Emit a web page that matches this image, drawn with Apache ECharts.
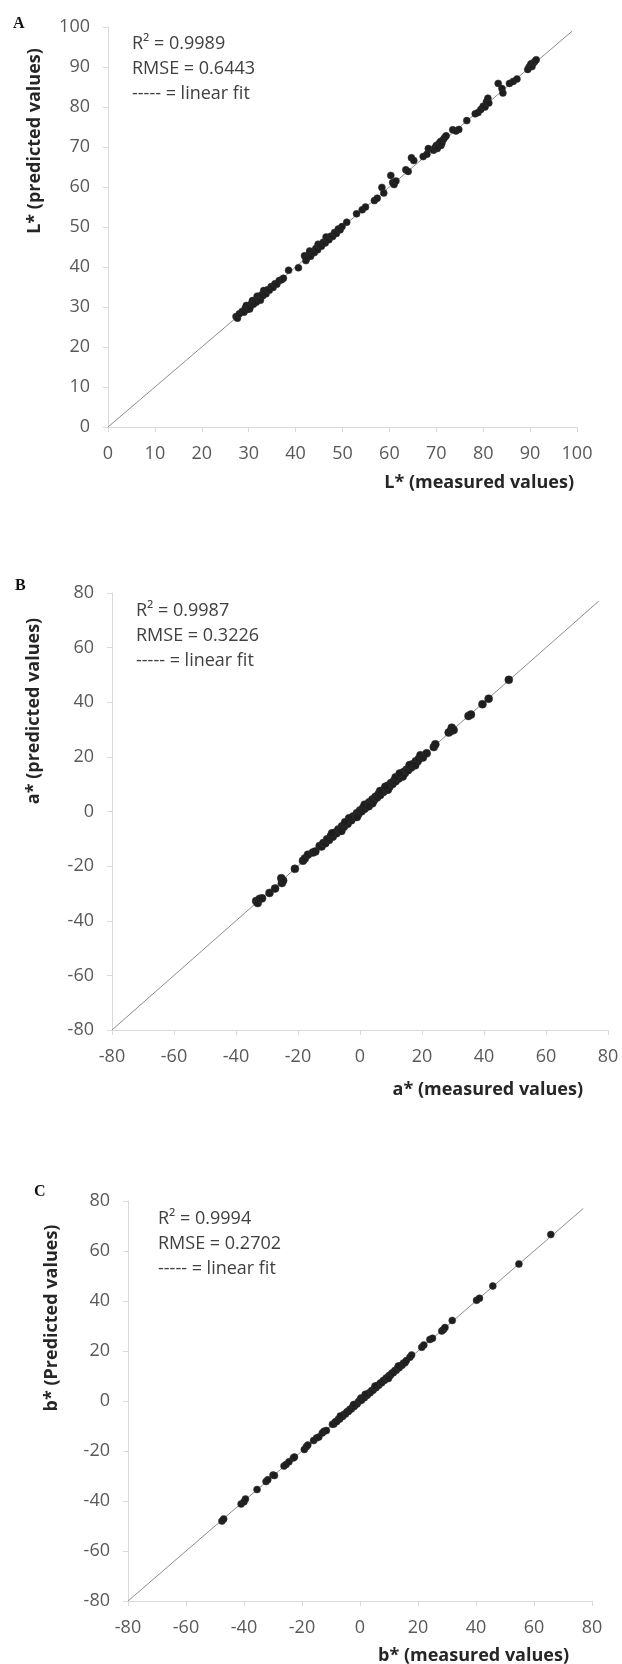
<!DOCTYPE html>
<html>
<head>
<meta charset="utf-8">
<script src="https://cdn.jsdelivr.net/npm/echarts@6/dist/echarts.min.js"></script>
<style>
  html, body { margin: 0; padding: 0; background: #fff; }
  #chart { width: 622px; height: 1664px; }
</style>
</head>
<body>
<div id="chart"></div>
<script>
// ============ data ============
// L* : [measured, predicted]
const lPoints = [
  [27.3,27.6],[27.6,27.2],[28.0,28.3],[28.6,28.9],[29.0,28.7],[29.3,29.8],[29.5,30.4],[29.7,29.4],
  [30.0,30.3],[30.2,29.5],[30.3,30.0],[30.6,30.9],[30.8,31.6],[31.0,30.7],[31.3,31.5],[31.6,31.2],
  [31.8,32.7],[32.0,32.3],[32.3,32.0],[32.5,31.7],[32.7,33.0],[33.0,32.8],[33.2,34.1],[33.4,33.7],
  [33.7,33.3],[34.0,34.3],[34.4,34.2],[34.8,35.1],[35.2,34.9],[35.6,35.8],[36.0,35.7],[36.5,36.6],
  [37.0,36.8],[37.4,37.2],
  [38.5,39.2],[40.6,39.8],
  [41.9,42.8],[42.2,41.6],[42.5,42.4],[42.9,43.3],[43.0,44.0],[43.2,42.7],[43.6,43.8],[44.0,43.6],
  [44.3,44.6],[44.7,44.3],[44.8,45.7],[45.1,45.4],[45.5,45.2],[45.9,46.2],[46.3,46.0],[46.5,47.5],
  [46.7,46.9],[47.1,46.8],[47.5,47.7],[47.9,47.6],[48.3,48.6],[48.7,48.4],[49.1,49.5],[49.5,49.3],
  [49.9,50.1],
  [50.9,51.2],[53.0,53.3],[54.2,54.3],[54.9,55.0],[56.8,56.6],[57.4,57.2],[58.4,59.9],[58.8,58.5],
  [60.3,62.9],[60.7,61.1],[61.0,60.6],[61.4,61.5],[63.5,64.3],[64.0,63.9],[64.7,67.3],[65.2,66.6],
  [67.2,67.6],[68.0,68.2],[68.3,69.6],
  [69.4,69.2],[69.7,69.8],[70.0,70.4],[70.2,69.6],[70.3,70.0],[70.6,70.9],[70.9,71.4],[71.0,70.4],
  [71.2,71.0],[71.5,71.9],[71.8,72.4],[72.1,72.8],
  [73.5,74.3],[74.2,74.0],[74.8,74.4],[76.5,76.6],[78.3,78.3],[78.9,78.6],[79.5,79.4],[80.0,80.2],
  [80.4,80.0],[80.7,81.3],[81.0,82.2],[81.2,81.0],
  [83.2,85.9],[84.0,84.6],[84.2,83.5],[85.6,85.9],[86.4,86.4],[87.2,87.0],
  [89.5,89.4],[89.8,90.0],[90.1,90.4],[90.2,90.8],[90.4,90.1],[90.7,91.0],[91.0,91.4],[91.3,91.8]
];

// a* : [measured, predicted]
const aPoints = [
  [-33.5,-32.8],[-33.0,-33.5],[-32.4,-32.0],[-31.6,-31.8],[-29.2,-29.8],[-27.4,-28.2],[-25.4,-24.4],
  [-25.2,-26.2],[-24.8,-25.3],[-21.0,-21.0],[-18.4,-18.0],[-17.8,-17.2],[-16.8,-15.8],[-15.2,-15.0],
  [-14.4,-14.6],[-13.0,-12.6],[-12.4,-12.8],
  [-11.8,-11.5],[-11.2,-11.6],[-10.6,-10.2],[-10.0,-10.4],[-9.4,-9.0],[-8.8,-9.2],[-8.2,-7.8],[-7.6,-8.0],
  [-7.0,-6.6],[-6.4,-6.9],[-5.8,-5.4],[-5.2,-5.6],[-4.6,-4.2],[-4.0,-4.5],[-3.4,-3.0],[-2.8,-3.2],
  [-2.2,-1.8],[-1.6,-2.0],[-1.0,-0.6],[-0.5,-0.9],[0.0,0.4],[0.5,0.1],[1.0,1.3],[1.5,1.0],
  [2.0,2.4],[2.5,2.1],[3.0,3.4],[3.5,3.0],[4.0,4.4],[4.5,4.1],[5.0,5.4],[5.5,5.1],
  [6.0,6.4],[6.5,6.0],[7.0,7.4],[7.5,7.1],[8.0,8.3],[8.5,8.1],[9.0,9.4],[9.5,9.1],
  [10.0,10.4],[10.5,10.1],[11.0,11.3],[11.5,11.1],[12.0,12.4],[12.5,12.1],[13.0,13.3],[13.5,13.1],
  [14.0,14.4],[14.5,14.1],[15.0,15.3],[15.5,15.1],[16.0,16.3],[16.5,16.1],[17.0,17.3],[17.5,17.1],
  [18.0,18.4],[18.6,18.4],[19.0,19.3],
  [-9.0,-8.0],[-6.0,-7.1],[-3.5,-2.5],[-1.0,-2.0],[1.5,2.5],[4.0,3.0],[6.5,7.5],[9.0,8.0],
  [11.5,12.5],[13.8,12.8],[16.0,17.0],[17.8,16.9],[-4.8,-3.9],[2.8,1.9],[8.2,9.1],[12.8,13.9],
  [19.5,20.6],[20.3,19.8],[21.5,21.3],[23.8,23.6],[24.3,24.6],[28.6,28.9],[29.2,29.4],[29.6,30.7],
  [30.2,29.8],[35.0,35.0],[35.8,35.5],[39.5,39.3],[41.5,41.3],[48.0,48.2]
];

// b* : [measured, predicted]
const bPoints = [
  [-47.6,-48.0],[-47.0,-47.2],[-41.0,-41.2],[-40.0,-40.3],[-39.5,-39.2],[-35.5,-35.4],[-32.4,-32.2],
  [-31.8,-31.5],[-30.0,-29.6],[-29.5,-29.8],[-26.2,-26.0],[-25.5,-25.4],[-24.5,-24.3],[-23.0,-22.8],
  [-22.6,-22.4],[-19.2,-19.4],[-18.5,-18.3],[-18.0,-17.6],[-16.0,-15.8],[-15.0,-14.8],[-14.2,-14.4],
  [-13.0,-12.8],[-12.4,-12.1],[-11.6,-11.8],
  [-9.5,-9.3],[-9.0,-9.2],[-8.5,-8.3],[-8.0,-8.2],[-7.5,-7.3],[-7.0,-7.2],[-6.5,-6.3],[-6.0,-6.2],
  [-5.5,-5.3],[-5.0,-5.2],[-4.5,-4.3],[-4.0,-4.2],[-3.5,-3.3],[-3.0,-3.2],[-2.5,-2.3],[-2.0,-2.2],
  [-1.5,-1.3],[-1.0,-1.2],[-0.5,-0.2],[0.0,0.3],[0.3,1.2],[0.5,0.3],[1.0,1.2],[1.5,1.3],[2.0,2.2],
  [2.5,2.3],[3.0,3.2],[3.5,3.3],[4.0,4.2],[4.5,4.3],[5.0,5.2],[5.5,5.3],[6.0,6.2],[6.5,6.3],
  [7.0,7.2],[7.5,7.3],[8.0,8.2],[8.5,8.3],[9.0,9.2],[9.5,9.3],[10.0,10.2],[10.5,10.3],[11.0,11.2],
  [11.5,11.3],[12.0,12.2],[12.5,12.3],[13.0,13.2],[13.5,13.3],[14.0,14.2],[14.5,14.3],[15.0,15.2],
  [15.5,15.3],[16.0,16.2],
  [-6.8,-6.0],[-2.2,-1.4],[1.8,2.7],[5.2,6.0],[9.8,9.0],[13.2,14.0],
  [17.2,17.5],[17.8,18.4],[21.3,21.5],[22.0,22.4],[24.1,24.6],[25.0,25.1],[28.2,28.0],[28.8,28.6],
  [29.3,29.4],[31.8,32.2],[40.2,40.3],[41.2,41.1],[45.8,46.0],[54.8,54.8],[65.8,66.6]
];

// 1:1 reference lines (end points of the drawn line)
const lLine = [[0, 0], [99, 99]];
const aLine = [[-80, -80], [77, 77]];
const bLine = [[-80, -80], [77, 77]];

const lTicks = { min: 0, max: 100, interval: 10 };
const abTicks = { min: -80, max: 80, interval: 20 };

const panelLetters = ['A', 'B', 'C'];
const statLines = [
  ['R² = 0.9989', 'RMSE = 0.6443', '----- = linear fit'],
  ['R² = 0.9987', 'RMSE = 0.3226', '----- = linear fit'],
  ['R² = 0.9994', 'RMSE = 0.2702', '----- = linear fit']
];
const xTitles = ['L* (measured values)', 'a* (measured values)', 'b* (measured values)'];
const yTitles = ['L* (predicted values)', 'a* (predicted values)', 'b* (Predicted values)'];

// ============ layout ============
const FONT = "'Open Sans', sans-serif";
const grids = [
  { left: 108, top: 27, width: 469, height: 400 },
  { left: 112, top: 593, width: 496, height: 437 },
  { left: 128, top: 1201, width: 464, height: 400 }
];
const letterPos = [[13, 16], [15, 578], [34, 1184]];
const statPos = [[132, 31], [136, 598], [158, 1206]];
const xTitlePos = [[574, 483], [583, 1090], [569, 1656]];
const yTitlePos = [[35, 141], [34, 711], [52, 1318]];
const markerSizes = [7, 8, 7];

function axisCommon(t) {
  return {
    type: 'value', min: t.min, max: t.max, interval: t.interval,
    axisLine: { show: true, onZero: false, lineStyle: { color: '#d9d9d9', width: 1 } },
    axisTick: { show: true, length: 5, lineStyle: { color: '#d9d9d9' } },
    splitLine: { show: false },
    axisLabel: { color: '#595959', fontSize: 18, fontFamily: FONT, margin: 18 }
  };
}

const chart = echarts.init(document.getElementById('chart'), null, { renderer: 'canvas' });

const ticks = [lTicks, abTicks, abTicks];
const pointSets = [lPoints, aPoints, bPoints];
const lineSets = [lLine, aLine, bLine];

const series = [];
for (let i = 0; i < 3; i++) {
  series.push({
    type: 'line', xAxisIndex: i, yAxisIndex: i, data: lineSets[i],
    symbol: 'none', silent: true, z: 1,
    lineStyle: { color: '#8c8c8c', width: 1 }
  });
  series.push({
    type: 'scatter', xAxisIndex: i, yAxisIndex: i, data: pointSets[i],
    symbol: 'circle', symbolSize: markerSizes[i], z: 2,
    itemStyle: { color: '#1e1e1e', borderColor: '#333', borderWidth: 0.5, opacity: 1 }
  });
}

const graphic = [];
for (let i = 0; i < 3; i++) {
  graphic.push({
    type: 'text', left: letterPos[i][0], top: letterPos[i][1],
    style: { text: panelLetters[i], font: 'bold 16px "Liberation Serif", serif', fill: '#111' }
  });
  graphic.push({
    type: 'text', left: statPos[i][0], top: statPos[i][1],
    style: { text: statLines[i].join('\n'), font: '18px ' + FONT, fill: '#404040', lineHeight: 25 }
  });
  graphic.push({
    type: 'text', x: xTitlePos[i][0], y: xTitlePos[i][1],
    style: { text: xTitles[i], font: 'bold 18px ' + FONT, fill: '#262626', align: 'right', verticalAlign: 'middle' }
  });
  graphic.push({
    type: 'text', x: yTitlePos[i][0], y: yTitlePos[i][1], rotation: Math.PI / 2,
    style: { text: yTitles[i], font: 'bold 18px ' + FONT, fill: '#262626', align: 'center', verticalAlign: 'middle' }
  });
}

chart.setOption({
  animation: false,
  backgroundColor: '#fff',
  grid: grids,
  xAxis: ticks.map((t, i) => Object.assign(axisCommon(t), { gridIndex: i })),
  yAxis: ticks.map((t, i) => Object.assign(axisCommon(t), { gridIndex: i })),
  series: series,
  graphic: graphic
});
</script>
</body>
</html>
